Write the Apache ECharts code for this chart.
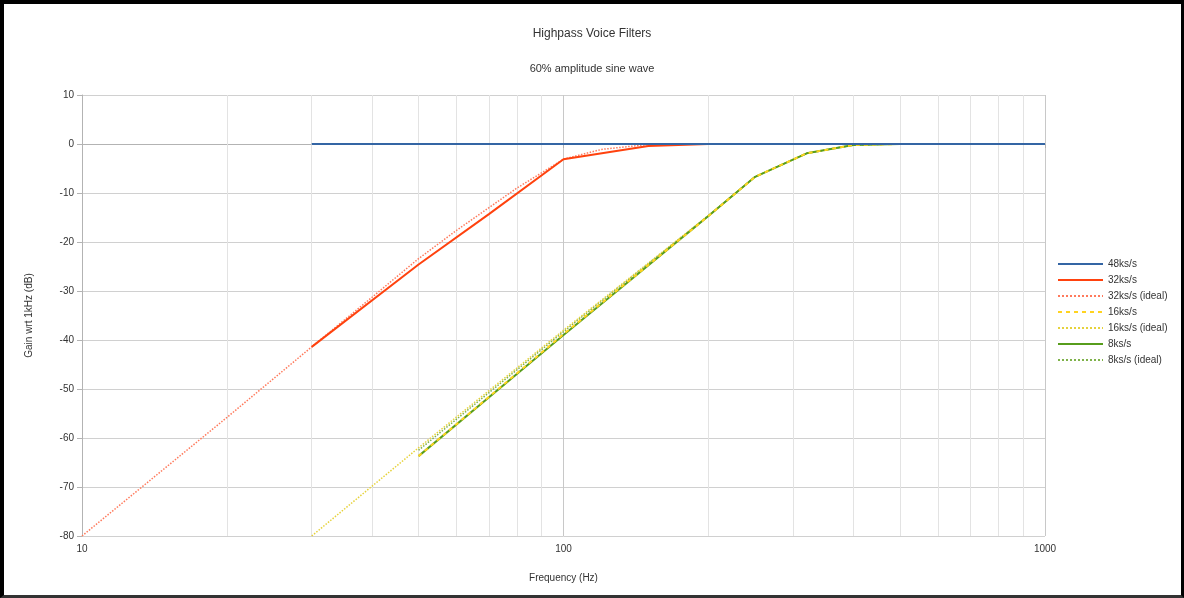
<!DOCTYPE html>
<html>
<head>
<meta charset="utf-8">
<title>Highpass Voice Filters</title>
<script src="https://cdn.jsdelivr.net/npm/echarts@6/dist/echarts.min.js"></script>
<style>
  html, body { margin: 0; padding: 0; background: #fff; }
  #chart { position: absolute; left: 0; top: 0; width: 1184px; height: 598px; }
  #frame { position: absolute; left: 0; top: 0; width: 1184px; height: 598px; box-sizing: border-box;
           border: 3px solid #000; border-left-width: 4px; border-top-width: 4px; border-bottom-color: #333; pointer-events: none; }
</style>
</head>
<body>
<div id="chart"></div>
<div id="frame"></div>
<script>
// readings: frequency (Hz) and gain (dB)
var f48 = [30, 50, 100, 200, 500, 1000];
var g48 = [0, 0, 0, 0, 0, 0];

var f32 = [30, 50, 70, 100, 150, 200, 500, 1000];
var g32 = [-41.4, -24.6, -14.3, -3.1, -0.4, 0, 0, 0];

var f32i = [10, 20, 30, 40, 50, 60, 70, 80, 90, 100, 120, 150, 200, 500, 1000];
var g32i = [-80, -55.8, -41.4, -31.3, -23.4, -17.6, -13, -9, -5.9, -3.1, -1.1, -0.1, 0, 0, 0];

var f16 = [50, 100, 200, 250, 320, 400, 500, 1000];
var g16 = [-63.7, -38.8, -14.7, -6.7, -1.9, -0.2, 0, 0];

var f16i = [30, 50, 100, 200, 250, 320, 400, 500, 1000];
var g16i = [-80, -62, -38, -14.6, -6.7, -1.9, -0.2, 0, 0];

var f8 = [50, 100, 200, 250, 320, 400, 500, 1000];
var g8 = [-63.7, -39, -14.7, -6.7, -1.9, -0.2, 0, 0];

var f8i = [50, 100, 200, 250, 320, 400, 500, 1000];
var g8i = [-62.5, -38.3, -14.6, -6.7, -1.9, -0.2, 0, 0];

var minorFreqs = [20, 30, 40, 50, 60, 70, 80, 90, 200, 300, 400, 500, 600, 700, 800, 900];
var legendNames = ['48ks/s', '32ks/s', '32ks/s (ideal)', '16ks/s', '16ks/s (ideal)', '8ks/s', '8ks/s (ideal)'];

function pairs(fs, gs) {
    var out = [];
    for (var i = 0; i < fs.length; i++) {
        out.push([fs[i], gs[i]]);
    }
    return out;
}

function lineSeries(name, fs, gs, color, type, width, z) {
    return {
        name: name,
        type: 'line',
        data: pairs(fs, gs),
        showSymbol: false,
        symbol: 'none',
        z: z,
        lineStyle: {color: color, type: type, width: width},
        itemStyle: {color: color},
        emphasis: {disabled: true}
    };
}

var font = 'Liberation Sans';

var seriesList = [
    lineSeries('32ks/s (ideal)', f32i, g32i, '#ff7a5c', 'dotted', 1.5, 2),
    lineSeries('32ks/s', f32, g32, '#ff420e', 'solid', 2, 3),
    lineSeries('8ks/s (ideal)', f8i, g8i, '#7fb24a', 'dotted', 1.5, 2),
    lineSeries('16ks/s (ideal)', f16i, g16i, '#e6d23c', 'dotted', 1.5, 3),
    lineSeries('8ks/s', f8, g8, '#579d1c', 'solid', 2, 3),
    lineSeries('16ks/s', f16, g16, '#ffd320', [4, 4], 2, 4),
    lineSeries('48ks/s', f48, g48, '#3465a4', 'solid', 2, 5)
];

// minor vertical grid lines of the log axis
seriesList[0].markLine = {
    silent: true,
    z: 1,
    symbol: ['none', 'none'],
    label: {show: false},
    lineStyle: {color: '#e3e3e3', type: 'solid', width: 1},
    data: minorFreqs.map(function (v) { return {xAxis: v}; })
};

var option = {
    backgroundColor: '#fff',
    animation: false,
    title: [
        {
            text: 'Highpass Voice Filters',
            left: 'center',
            top: 23,
            textStyle: {fontFamily: font, fontSize: 12, fontWeight: 'normal', color: '#333'}
        },
        {
            text: '60% amplitude sine wave',
            left: 'center',
            top: 58,
            textStyle: {fontFamily: font, fontSize: 11, fontWeight: 'normal', color: '#333'}
        }
    ],
    legend: {
        orient: 'vertical',
        left: 1052,
        top: 254,
        itemWidth: 45,
        itemHeight: 8,
        itemGap: 6,
        itemStyle: {opacity: 0},
        data: legendNames,
        textStyle: {fontFamily: font, fontSize: 10, color: '#333'}
    },
    grid: {left: 82, right: 139, top: 95, bottom: 62},
    xAxis: {
        type: 'log',
        logBase: 10,
        min: 10,
        max: 1000,
        name: 'Frequency (Hz)',
        nameLocation: 'middle',
        nameGap: 37,
        nameTextStyle: {fontFamily: font, fontSize: 10, color: '#333'},
        axisLine: {show: true, lineStyle: {color: '#b3b3b3'}},
        axisTick: {show: true, length: 4, lineStyle: {color: '#b3b3b3'}},
        axisLabel: {
            fontFamily: font, fontSize: 10, color: '#333', margin: 8,
            formatter: function (v) { return String(Math.round(v)); }
        },
        splitLine: {show: true, lineStyle: {color: '#c8c8c8'}}
    },
    yAxis: {
        type: 'value',
        min: -80,
        max: 10,
        interval: 10,
        name: 'Gain wrt 1kHz (dB)',
        nameLocation: 'middle',
        nameGap: 48,
        nameTextStyle: {fontFamily: font, fontSize: 10, color: '#333'},
        axisLine: {show: true, lineStyle: {color: '#b3b3b3'}},
        axisTick: {show: true, length: 5, lineStyle: {color: '#b3b3b3'}},
        axisLabel: {fontFamily: font, fontSize: 10, color: '#333', margin: 8},
        splitLine: {show: true, lineStyle: {color: '#d0d0d0'}}
    },
    series: seriesList
};

var myChart = echarts.init(document.getElementById('chart'), null, {renderer: 'canvas'});
myChart.setOption(option);
</script>
</body>
</html>
